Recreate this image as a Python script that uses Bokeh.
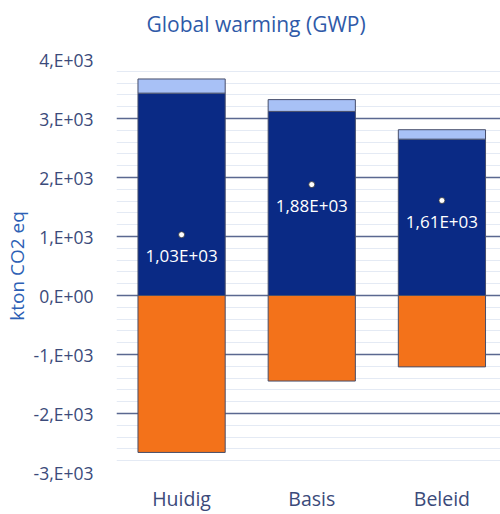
from bokeh.plotting import figure
from bokeh.models import Range1d, FixedTicker, ColumnDataSource
from bokeh.core.properties import value
from bokeh.embed import file_html
from bokeh.resources import INLINE

categories = ["Huidig", "Basis", "Beleid"]
navy_vals = [3430, 3120, 2650]
light_vals = [240, 200, 160]
orange_vals = [-2660, -1450, -1210]
net_vals = [1030, 1880, 1610]
y_ticks = [-3000, -2000, -1000, 0, 1000, 2000, 3000, 4000]
y_tick_labels = ["-3,E+03", "-2,E+03", "-1,E+03", "0,E+00", "1,E+03", "2,E+03", "3,E+03", "4,E+03"]
title_text = "Global warming (GWP)"
y_label = "kton CO2 eq"

FONT = "Open Sans"
xs = [i + 0.5 for i in range(len(categories))]
tops_light = [n + l for n, l in zip(navy_vals, light_vals)]
zeros = [0] * len(categories)
net_labels = [f"{v:.2E}".replace(".", ",") for v in net_vals]

src = ColumnDataSource(dict(x=xs, navy=navy_vals, light=tops_light, orange=orange_vals,
                            zero=zeros, net=net_vals, lab=net_labels))

p = figure(width=500, height=514, output_backend="svg", toolbar_location=None,
           x_range=Range1d(0, 2.95), y_range=Range1d(-3000, 4000),
           min_border_left=115, min_border_right=0, min_border_top=59, min_border_bottom=41)
p.outline_line_color = None
p.background_fill_color = "white"
p.border_fill_color = "white"

p.title.text = title_text
p.title.align = "left"
p.title.offset = 30
p.title.vertical_align = "top"
p.title.padding = dict(left=0, right=0, top=0, bottom=20)
p.title.text_font = FONT
p.title.text_font_size = "21px"
p.title.text_font_style = "normal"
p.title.text_color = "#2f5aa8"
p.title.standoff = 0

bar_w = 0.67
outline = "#474e6a"
p.vbar(x="x", width=bar_w, bottom="zero", top="navy", source=src,
       fill_color="#0a2a85", line_color=outline, line_width=1)
p.vbar(x="x", width=bar_w, bottom="navy", top="light", source=src,
       fill_color="#a8c1f6", line_color=outline, line_width=1)
p.vbar(x="x", width=bar_w, bottom="orange", top="zero", source=src,
       fill_color="#f3721a", line_color=outline, line_width=1)

p.scatter(x="x", y="net", source=src, size=6, fill_color="white", line_color="#333333", line_width=0.8)
p.text(x="x", y="net", text="lab", source=src, text_color="white", text_align="center",
       text_baseline="middle", y_offset=21, text_font=value(FONT), text_font_size="17px")

# axes
p.yaxis.ticker = FixedTicker(ticks=y_ticks, minor_ticks=list(range(-3000, 4001, 200)))
p.yaxis.major_label_overrides = {t: l for t, l in zip(y_ticks, y_tick_labels)}
p.yaxis.axis_line_color = None
p.yaxis.major_tick_line_color = None
p.yaxis.minor_tick_line_color = None
p.yaxis.major_tick_out = 0
p.yaxis.major_label_standoff = 19
p.yaxis.major_label_text_font = FONT
p.yaxis.major_label_text_font_size = "17.5px"
p.yaxis.major_label_text_color = "#3b4a7a"
p.yaxis.axis_label = y_label
p.yaxis.axis_label_text_font = FONT
p.yaxis.axis_label_text_font_size = "19px"
p.yaxis.axis_label_text_font_style = "normal"
p.yaxis.axis_label_text_color = "#2d5fb5"
p.yaxis.axis_label_standoff = 1

p.xaxis.ticker = FixedTicker(ticks=xs)
p.xaxis.major_label_overrides = {x: c for x, c in zip(xs, categories)}
p.xaxis.axis_line_color = None
p.xaxis.major_tick_line_color = None
p.xaxis.minor_tick_line_color = None
p.xaxis.major_tick_out = 0
p.xaxis.major_label_standoff = 12
p.xaxis.major_label_text_font = FONT
p.xaxis.major_label_text_font_size = "19.5px"
p.xaxis.major_label_text_color = "#3b4a7a"

p.xgrid.grid_line_color = None
p.ygrid.grid_line_color = "#5a6890"
p.ygrid.grid_line_width = 1.3
p.ygrid.minor_grid_line_color = "#e4eaf4"
p.ygrid.minor_grid_line_width = 1
p.ygrid.level = "underlay"

open("out.html", "w").write(file_html(p, INLINE))
